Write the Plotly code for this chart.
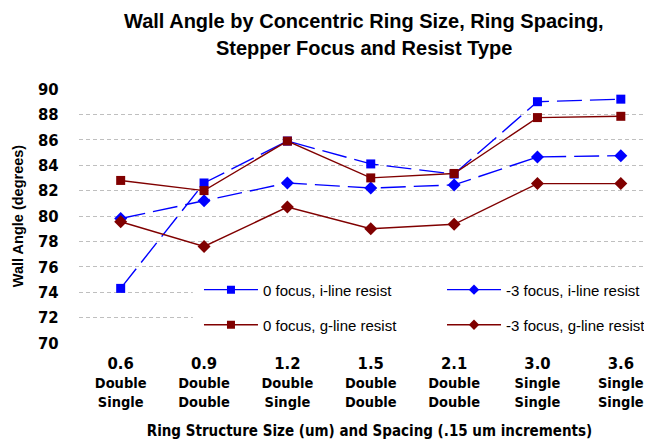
import plotly.graph_objects as go

sizes = ["0.6", "0.9", "1.2", "1.5", "2.1", "3.0", "3.6"]
size_type = ["Double", "Double", "Double", "Double", "Double", "Single", "Single"]
spacing_type = ["Single", "Double", "Single", "Double", "Double", "Single", "Single"]

focus0_iline = [74.3, 82.6, 85.9, 84.1, 83.3, 89.0, 89.2]
focus3_iline = [79.8, 81.2, 82.6, 82.2, 82.45, 84.65, 84.75]
focus0_gline = [82.8, 82.0, 85.9, 83.0, 83.35, 87.75, 87.85]
focus3_gline = [79.55, 77.6, 80.7, 79.0, 79.35, 82.55, 82.55]

BLUE = "#0000FF"
RED = "#800000"
NARROW = "DejaVu Sans Condensed, Liberation Sans Narrow, Arial Narrow, Liberation Sans"
SANS = "Liberation Sans, Arial"

series = [
    ("0 focus, i-line resist", focus0_iline, BLUE, "square", True, "legend"),
    ("-3 focus, i-line resist", focus3_iline, BLUE, "diamond", True, "legend2"),
    ("0 focus, g-line resist", focus0_gline, RED, "square", False, "legend3"),
    ("-3 focus, g-line resist", focus3_gline, RED, "diamond", False, "legend4"),
]

PAD = "\u00a0" * 6  # keeps plotly's legend clip box wide enough for the text

xs = list(range(len(sizes)))
fig = go.Figure()
for name, vals, col, sym, dashed, lg in series:
    fig.add_trace(go.Scatter(
        x=xs, y=vals, mode="lines+markers", name=name, showlegend=False,
        line=dict(color=col, width=1.4, dash="25px,8px" if dashed else "solid"),
        marker=dict(symbol=sym, size=9 if sym == "square" else 10, color=col),
    ))
# legend-only entries (solid lines as in the reference legend)
for name, vals, col, sym, dashed, lg in series:
    fig.add_trace(go.Scatter(
        x=[None], y=[None], mode="lines+markers", name=name + PAD, legend=lg,
        line=dict(color=col, width=1.4),
        marker=dict(symbol=sym, size=8, color=col),
    ))

ticktext = [f"<span style='font-size:16.5px'>{s}</span><br>{a}<br>{b}"
            for s, a, b in zip(sizes, size_type, spacing_type)]

def leg(x, y):
    return dict(orientation="v", x=x, xanchor="left", y=y, yanchor="middle",
                bgcolor="rgba(0,0,0,0)", font=dict(family=SANS, size=15),
                itemwidth=54)

fig.update_layout(
    width=652, height=444,
    margin=dict(l=71, r=0, t=81, b=109, autoexpand=False),
    paper_bgcolor="white", plot_bgcolor="white",
    font=dict(family=SANS, color="black"),
    showlegend=True,
    xaxis=dict(
        range=[-0.5, 6.47], tickvals=xs, ticktext=ticktext,
        showgrid=False, zeroline=False, showline=False,
        tickfont=dict(family=NARROW, size=14.5, weight="bold"),
        ticks="outside", ticklen=8, tickcolor="rgba(0,0,0,0)",
        title=dict(text="Ring Structure Size (um) and Spacing (.15 um increments)",
                   font=dict(family=NARROW, size=15, weight="bold"), standoff=16),
    ),
    yaxis=dict(
        range=[70, 90], dtick=2, tickformat="d",
        showgrid=True, gridcolor="#BFBFBF", griddash="4px,3px", gridwidth=1,
        zeroline=False, showline=False,
        tickfont=dict(family=NARROW, size=16.5, weight="bold"),
        ticks="outside", ticklen=16, tickcolor="rgba(0,0,0,0)",
        title=dict(text="Wall Angle (degrees)",
                   font=dict(family=SANS, size=14.5, weight="bold"), standoff=10),
    ),
    legend=leg(0.2065, 0.209),
    legend2=leg(0.6248, 0.209),
    legend3=leg(0.2065, 0.071),
    legend4=leg(0.6248, 0.071),
    shapes=[dict(type="rect", xref="paper", yref="paper", x0=0.196, x1=1.0,
                 y0=0.028, y1=0.287, fillcolor="white", line=dict(width=0),
                 layer="above")],
    annotations=[
        dict(text="Wall Angle by Concentric Ring Size, Ring Spacing,", xref="paper", yref="paper",
             x=0.5, y=1, yshift=68, xshift=-6, showarrow=False, xanchor="center", yanchor="middle",
             font=dict(family=SANS, size=20, weight="bold")),
        dict(text="Stepper Focus and Resist Type", xref="paper", yref="paper",
             x=0.5, y=1, yshift=41, xshift=-6, showarrow=False, xanchor="center", yanchor="middle",
             font=dict(family=SANS, size=20, weight="bold")),
    ],
)

fig.write_html("out.html")
